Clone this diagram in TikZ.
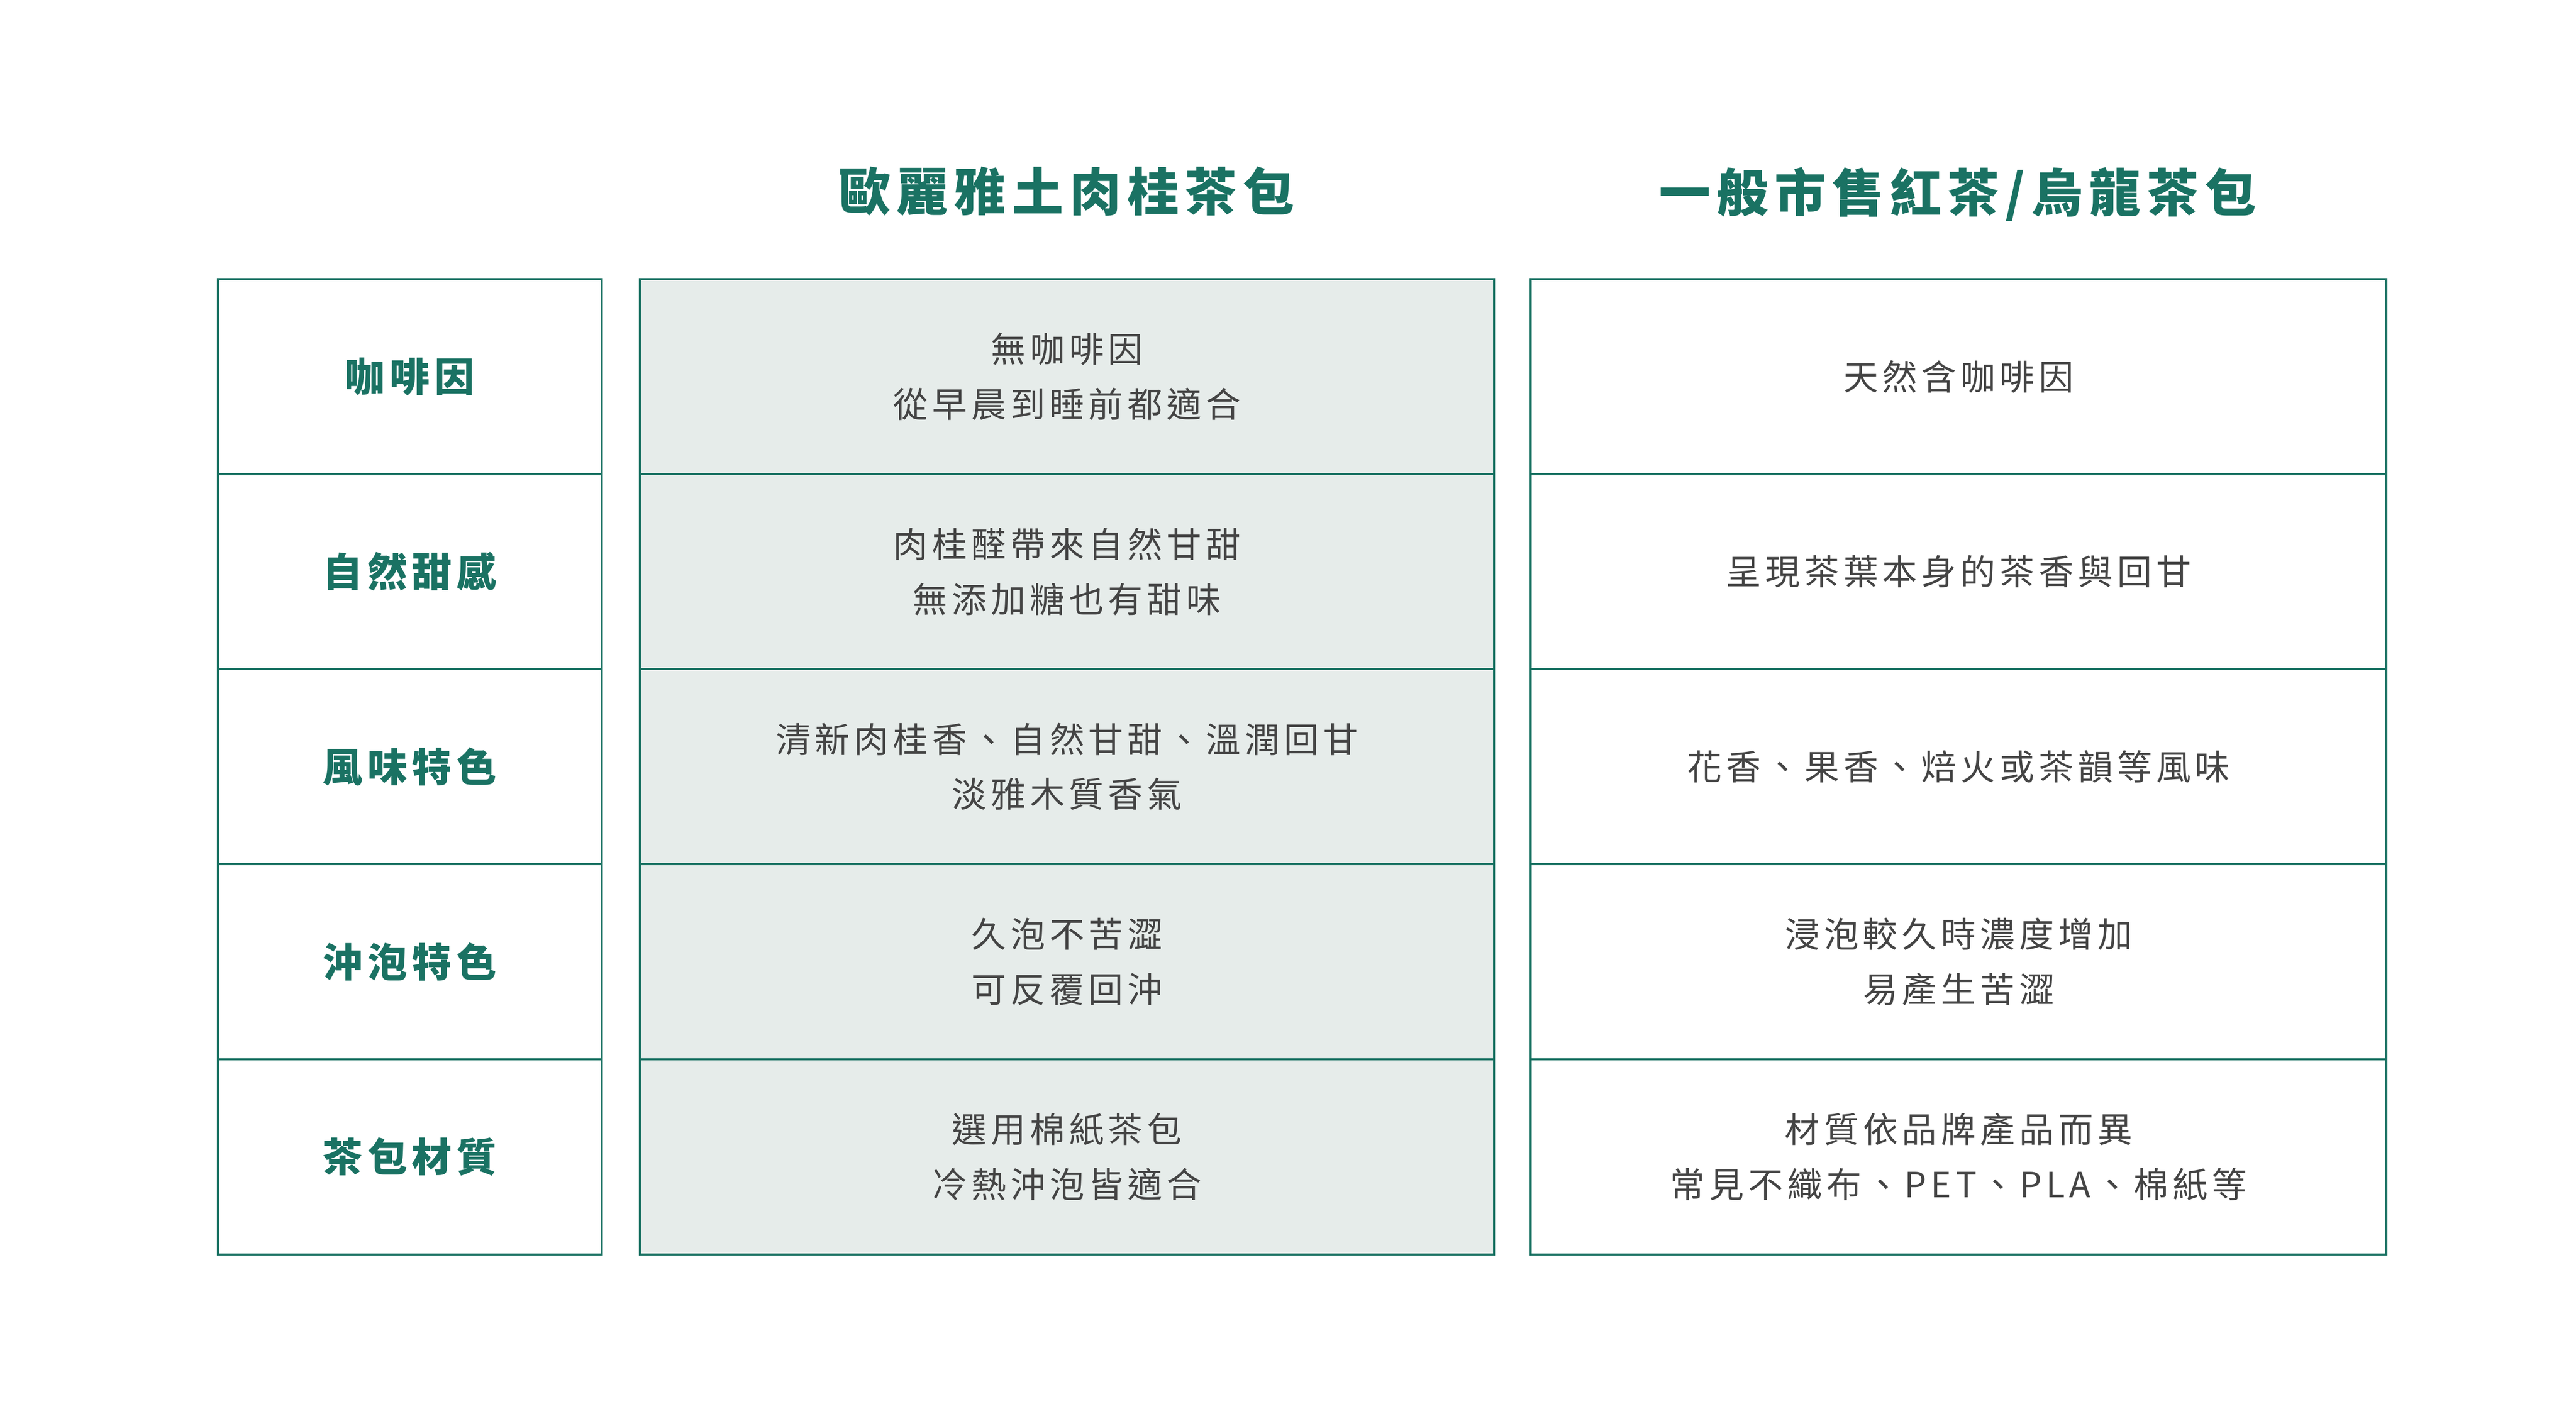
\documentclass[tikz,border=0pt]{standalone}
\usepackage{fontspec}
\newfontfamily\cjk[LetterSpace=12]{Noto Sans CJK TC}
\definecolor{teagreen}{HTML}{1A7263}
\definecolor{cellfill}{HTML}{E6ECEA}
\definecolor{bodytext}{HTML}{444444}
\usetikzlibrary{positioning}

\tikzset{
  cell/.style={draw=teagreen, line width=1.2pt, minimum height=117.5pt, inner sep=0pt, align=center},
  rowlabel/.style={cell, minimum width=231pt, font=\cjk\bfseries\fontsize{24}{30}\selectfont, text=teagreen},
  ours/.style={cell, minimum width=514pt, fill=cellfill, font=\cjk\fontsize{21}{33}\selectfont, text=bodytext},
  theirs/.style={cell, minimum width=515pt, font=\cjk\fontsize{21}{33}\selectfont, text=bodytext},
  head/.style={font=\cjk\bfseries\fontsize{31}{36}\selectfont, text=teagreen}
}

\begin{document}
\begin{tikzpicture}[x=1pt, y=-1pt]
  \useasboundingbox (0,0) rectangle (1550,848);

  % Column headers
  \node[head] (hOurs) at (642,115) {歐麗雅土肉桂茶包};
  \node[head] (hTheirs) at (1178,117) {一般市售紅茶/烏龍茶包};

  % Row 1
  \node[rowlabel] (lab1) at (246.5,226.7) {咖啡因};
  \node[ours] (our1) at (642,226.7) {無咖啡因\\從早晨到睡前都適合};
  \node[theirs] (their1) at (1178.5,226.7) {天然含咖啡因};
  % Row 2
  \node[rowlabel] (lab2) at (246.5,344.1) {自然甜感};
  \node[ours] (our2) at (642,344.1) {肉桂醛帶來自然甘甜\\無添加糖也有甜味};
  \node[theirs] (their2) at (1178.5,344.1) {呈現茶葉本身的茶香與回甘};
  % Row 3
  \node[rowlabel] (lab3) at (246.5,461.5) {風味特色};
  \node[ours] (our3) at (642,461.5) {清新肉桂香、自然甘甜、溫潤回甘\\淡雅木質香氣};
  \node[theirs] (their3) at (1178.5,461.5) {花香、果香、焙火或茶韻等風味};
  % Row 4
  \node[rowlabel] (lab4) at (246.5,578.9) {沖泡特色};
  \node[ours] (our4) at (642,578.9) {久泡不苦澀\\可反覆回沖};
  \node[theirs] (their4) at (1178.5,578.9) {浸泡較久時濃度增加\\易產生苦澀};
  % Row 5
  \node[rowlabel] (lab5) at (246.5,696.3) {茶包材質};
  \node[ours] (our5) at (642,696.3) {選用棉紙茶包\\冷熱沖泡皆適合};
  \node[theirs] (their5) at (1178.5,696.3) {材質依品牌產品而異\\常見不織布、PET、PLA、棉紙等};
\end{tikzpicture}
\end{document}
